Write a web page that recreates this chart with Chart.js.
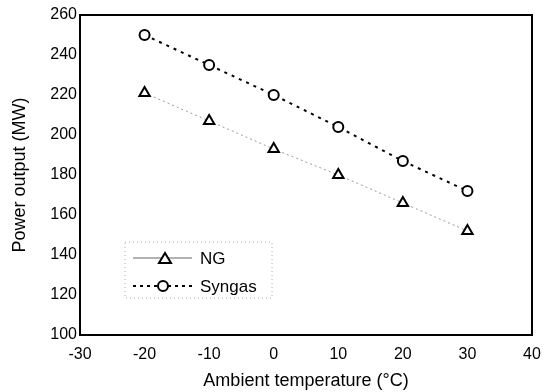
<!DOCTYPE html>
<html>
<head>
<meta charset="utf-8">
<script src="https://cdn.jsdelivr.net/npm/chart.js@4"></script>
<style>
  html, body { margin: 0; padding: 0; background: #fff; }
  #wrap { width: 545px; height: 392px; }
</style>
</head>
<body>
<div id="wrap"><canvas id="chart"></canvas></div>
<script>
const temps = [-20, -10, 0, 10, 20, 30]
const ngPower = [221, 207, 193, 180, 166, 152]
const syngasPower = [250, 235, 220, 204, 187, 172]

const seriesNames = ["NG", "Syngas"]

const toPoints = (xs, ys) => xs.map((x, i) => ({ x: x, y: ys[i] }))

const fontFamily = "'Liberation Sans', Arial, sans-serif"

// frame around the plot + the legend box inside it
const framePlugin = {
  id: "frame",
  afterDraw(chart) {
    const { ctx, chartArea } = chart
    ctx.save()
    ctx.strokeStyle = "#000"
    ctx.lineWidth = 2
    ctx.strokeRect(chartArea.left, chartArea.top, chartArea.right - chartArea.left, chartArea.bottom - chartArea.top)

    // legend
    const x0 = 125, y0 = 242, w = 147, h = 56
    ctx.lineWidth = 1
    ctx.strokeStyle = "#aaa"
    ctx.setLineDash([1, 3])
    ctx.strokeRect(x0, y0, w, h)

    ctx.font = "17px " + fontFamily
    ctx.fillStyle = "#000"
    ctx.textBaseline = "middle"

    // NG row
    let y = y0 + 16
    ctx.strokeStyle = "#666"
    ctx.setLineDash([])
    ctx.beginPath(); ctx.moveTo(x0 + 8, y); ctx.lineTo(x0 + 67, y); ctx.stroke()
    drawTriangle(ctx, x0 + 40, y)
    ctx.fillText(seriesNames[0], x0 + 75, y + 1)

    // Syngas row
    y = y0 + 44
    ctx.strokeStyle = "#000"
    ctx.lineWidth = 2
    ctx.setLineDash([3, 4])
    ctx.beginPath(); ctx.moveTo(x0 + 8, y); ctx.lineTo(x0 + 70, y); ctx.stroke()
    ctx.setLineDash([])
    ctx.beginPath(); ctx.arc(x0 + 38, y, 5, 0, Math.PI * 2)
    ctx.fillStyle = "#fff"; ctx.fill(); ctx.stroke()
    ctx.fillStyle = "#000"
    ctx.fillText(seriesNames[1], x0 + 75, y + 1)
    ctx.restore()
  },
}

function drawTriangle(ctx, x, y) {
  ctx.save()
  ctx.setLineDash([])
  ctx.lineWidth = 2
  ctx.strokeStyle = "#000"
  ctx.fillStyle = "#fff"
  ctx.beginPath()
  ctx.moveTo(x, y - 5)
  ctx.lineTo(x + 6, y + 5)
  ctx.lineTo(x - 6, y + 5)
  ctx.closePath()
  ctx.fill()
  ctx.stroke()
  ctx.restore()
}

const tickFont = { family: fontFamily, size: 16 }
const titleFont = { family: fontFamily, size: 18 }

new Chart(document.getElementById("chart"), {
  type: "scatter",
  data: {
    datasets: [
      {
        label: seriesNames[0],
        data: toPoints(temps, ngPower),
        showLine: true,
        borderColor: "#999",
        borderWidth: 1,
        borderDash: [2, 3],
        pointStyle: "triangle",
        pointRadius: 6,
        pointBorderWidth: 2,
        pointBorderColor: "#000",
        pointBackgroundColor: "#fff",
      },
      {
        label: seriesNames[1],
        data: toPoints(temps, syngasPower),
        showLine: true,
        borderColor: "#000",
        borderWidth: 2,
        borderDash: [3, 5],
        pointStyle: "circle",
        pointRadius: 5,
        pointBorderWidth: 2,
        pointBorderColor: "#000",
        pointBackgroundColor: "#fff",
      },
    ],
  },
  options: {
    responsive: true,
    maintainAspectRatio: false,
    animation: false,
    layout: { padding: { top: 15, right: 13, left: 0, bottom: 0 } },
    plugins: {
      legend: { display: false },
      tooltip: { enabled: false },
    },
    scales: {
      x: {
        type: "linear",
        min: -30,
        max: 40,
        ticks: { stepSize: 10, color: "#000", font: tickFont, padding: 10 },
        grid: { display: false, drawTicks: false },
        border: { color: "#000", width: 2 },
        title: {
          display: true,
          text: "Ambient temperature (°C)",
          color: "#000",
          font: titleFont,
          padding: { top: 0, bottom: 0 },
        },
        afterFit(scale) {
          scale.height = 57
          scale.paddingRight = 0
          scale.paddingLeft = 0
        },
      },
      y: {
        min: 100,
        max: 260,
        ticks: { stepSize: 20, color: "#000", font: tickFont, padding: 3 },
        grid: { display: false, drawTicks: false },
        border: { color: "#000", width: 2 },
        title: {
          display: true,
          text: "Power output (MW)",
          color: "#000",
          font: titleFont,
          padding: { top: 9, bottom: 0 },
        },
        afterFit(scale) { scale.width = 80 },
      },
    },
  },
  plugins: [framePlugin],
})
</script>
</body>
</html>
